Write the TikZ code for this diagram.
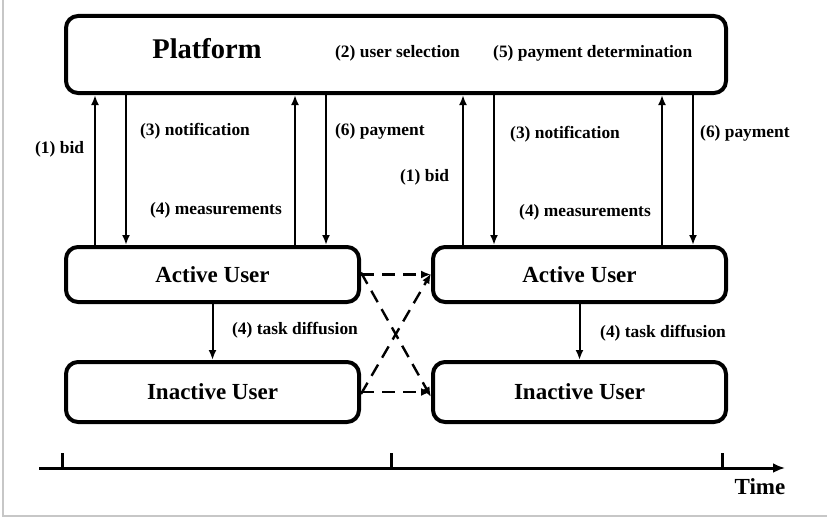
\documentclass[tikz,border=0pt]{standalone}
\usepackage{fontspec}
\setmainfont{Liberation Serif}
\usetikzlibrary{arrows.meta,calc}
\begin{document}
\begin{tikzpicture}[x=1pt,y=-1pt,
  box/.style={draw, line width=4pt, rounded corners=12pt, inner sep=0pt},
  arr/.style={line width=2pt, -{Latex[length=10pt,width=8pt]}},
  darr/.style={line width=2.4pt, dash pattern=on 13pt off 8pt, -{Latex[length=10pt,width=8pt]}},
  lbl/.style={anchor=west, inner sep=0pt, font=\fontsize{17.4}{20}\selectfont\bfseries},
  big/.style={font=\fontsize{23}{26}\selectfont\bfseries},
  tick/.style={line width=3pt}
]
\useasboundingbox (0,0) rectangle (827,519);
\draw[line width=1.5pt, black!22] (3,0) -- (3,516) -- (827,516);

% boxes
\node[box, minimum width=660pt, minimum height=77pt] (pf) at (396,54.5) {};
\node[font=\fontsize{28.5}{32}\selectfont\bfseries] (pft) at (207,49) {Platform};
\node[lbl] (us) at (335,53) {(2) user selection};
\node[lbl] (pd) at (493,53) {(5) payment determination};

\node[box, big, minimum width=293pt, minimum height=55pt] (al) at (212.5,274.5) {Active User};
\node[box, big, minimum width=293pt, minimum height=55pt] (ar) at (579.5,274.5) {Active User};
\node[box, big, minimum width=293pt, minimum height=60pt] (il) at (212.5,392) {Inactive User};
\node[box, big, minimum width=293pt, minimum height=60pt] (ir) at (579.5,392) {Inactive User};

% vertical arrows, left
\draw[arr] ([xshift=31pt]al.north west) -- ([xshift=31pt]al.north west |- pf.south);
\draw[arr] ([xshift=62pt]al.north west |- pf.south) -- ([xshift=62pt]al.north west);
\draw[arr] ([xshift=231pt]al.north west) -- ([xshift=231pt]al.north west |- pf.south);
\draw[arr] ([xshift=262pt]al.north west |- pf.south) -- ([xshift=262pt]al.north west);
% vertical arrows, right
\draw[arr] ([xshift=32pt]ar.north west) -- ([xshift=32pt]ar.north west |- pf.south);
\draw[arr] ([xshift=63pt]ar.north west |- pf.south) -- ([xshift=63pt]ar.north west);
\draw[arr] ([xshift=231pt]ar.north west) -- ([xshift=231pt]ar.north west |- pf.south);
\draw[arr] ([xshift=262pt]ar.north west |- pf.south) -- ([xshift=262pt]ar.north west);

% labels
\node[lbl] (b1) at (35,149) {(1) bid};
\node[lbl] (n1) at (140,131) {(3) notification};
\node[lbl] (m1) at (150,210) {(4) measurements};
\node[lbl] (p1) at (335,131) {(6) payment};
\node[lbl] (b2) at (400,177) {(1) bid};
\node[lbl] (n2) at (510,134) {(3) notification};
\node[lbl] (m2) at (519,212) {(4) measurements};
\node[lbl] (p2) at (700,133) {(6) payment};

% task diffusion
\draw[arr] (al.south) -- (il.north);
\draw[arr] (ar.south) -- (ir.north);
\node[lbl] (t1) at (232,330) {(4) task diffusion};
\node[lbl] (t2) at (600,333) {(4) task diffusion};

% dashed transitions
\draw[darr] (al.east) -- (ar.west);
\draw[darr] (il.east) -- (ir.west);
\draw[darr] ([yshift=2pt]al.east) -- ([yshift=-5pt]ir.west);
\draw[darr] ([yshift=-2pt]il.east) -- ([yshift=1pt]ar.west);

% timeline
\coordinate (t0) at (39,468);
\coordinate (t9) at (785,468);
\draw[line width=3pt, -{Latex[length=12pt,width=10pt]}] (t0) -- (t9);
\draw[tick] (62,468) -- (62,453);
\draw[tick] (391,468) -- (391,453);
\draw[tick] (722,468) -- (722,453);
\node[big, inner sep=0pt] (time) at (760,487) {Time};
\end{tikzpicture}
\end{document}
